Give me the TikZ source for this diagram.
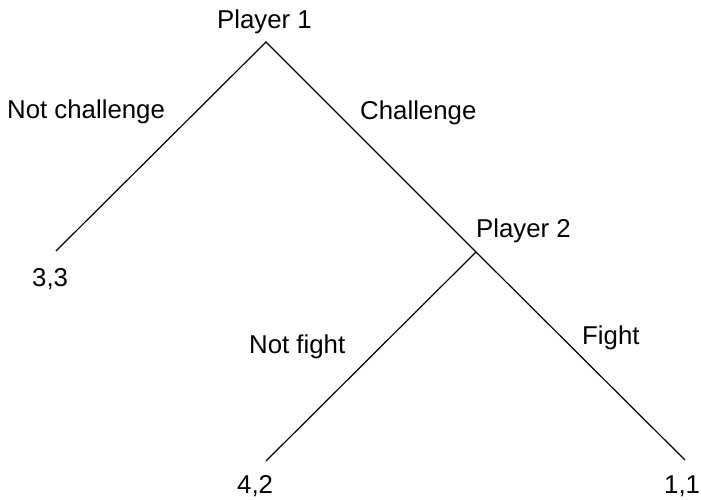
\documentclass[tikz,border=0pt]{standalone}
\usepackage{fontspec}
\setmainfont{Liberation Sans}
\begin{document}
\begin{tikzpicture}[x=1pt,y=-1pt,
  lbl/.style={anchor=base west,inner sep=0pt,font=\fontsize{25.8}{30}\selectfont},
  branch/.style={line width=1.2pt,line cap=butt}]
\useasboundingbox (0,0) rectangle (701,499);
\coordinate (p1) at (266,42);
\coordinate (p2) at (476,252);
\coordinate (l33) at (56,251);
\coordinate (l42) at (266,461);
\coordinate (l11) at (685,460);
\draw[branch] (l33) -- (p1) -- (p2) -- (l11);
\draw[branch] (p2) -- (l42);
\node[lbl] (t1) at (217,28) {Player 1};
\node[lbl] (t2) at (7,118) {Not challenge};
\node[lbl] (t3) at (360,119) {Challenge};
\node[lbl] (t4) at (476,237) {Player 2};
\node[lbl] (t5) at (32,286) {3,3};
\node[lbl] (t6) at (249,353) {Not fight};
\node[lbl] (t7) at (582,344) {Fight};
\node[lbl] (t8) at (237,493) {4,2};
\node[lbl] (t9) at (664,493) {1,1};
\end{tikzpicture}
\end{document}
